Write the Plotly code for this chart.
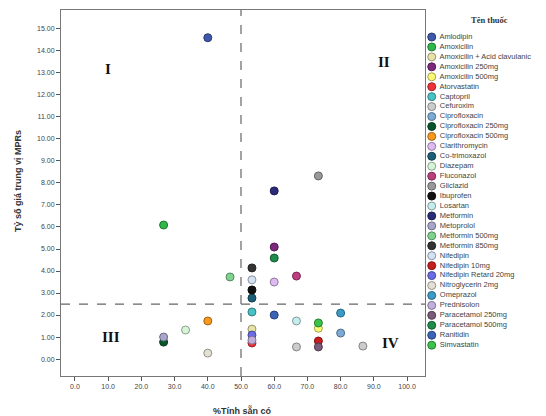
import plotly.graph_objects as go

# ---------------- data ----------------
drug_names = [
    "Amlodipin", "Amoxicilin", "Amoxicilin + Acid clavulanic", "Amoxicilin 250mg",
    "Amoxicilin 500mg", "Atorvastatin", "Captopril", "Cefuroxim", "Ciprofloxacin",
    "Ciprofloxacin 250mg", "Ciprofloxacin 500mg", "Clarithromycin", "Co-trimoxazol",
    "Diazepam", "Fluconazol", "Gliclazid", "Ibuprofen", "Losartan", "Metformin",
    "Metoprolol", "Metformin 500mg", "Metformin 850mg", "Nifedipin", "Nifedipin 10mg",
    "Nifedipin Retard 20mg", "Nitroglycerin 2mg", "Omeprazol", "Prednisolon",
    "Paracetamol 250mg", "Paracetamol 500mg", "Ranitidin", "Simvastatin",
]
drug_colors = [
    "#3E58AC", "#2EB848", "#E6E2A8", "#7C287D", "#FBF873", "#EF3338", "#48C2C5",
    "#CCCCCC", "#7AAAD5", "#0A562C", "#F8981D", "#DDBAF1", "#1A5F76", "#D6F5D6",
    "#BB3F7F", "#999999", "#111111", "#C6EDEE", "#2A2C7A", "#A9A6CC", "#7FD38F",
    "#333333", "#D3E1F3", "#C81E1E", "#6B6BE6", "#E3DFD3", "#3A9BC6", "#C2AEDD",
    "#7A5C7A", "#1E8C4A", "#3B63B8", "#3CC24A",
]

# points: drug, % availability, median price ratio
point_drug = [
    "Amlodipin", "Amoxicilin", "Amoxicilin + Acid clavulanic", "Amoxicilin 250mg",
    "Amoxicilin 500mg", "Atorvastatin", "Captopril", "Cefuroxim", "Cefuroxim",
    "Ciprofloxacin", "Ciprofloxacin 250mg", "Ciprofloxacin 500mg", "Clarithromycin",
    "Co-trimoxazol", "Diazepam", "Fluconazol", "Gliclazid", "Ibuprofen", "Losartan",
    "Metformin", "Metoprolol", "Metformin 500mg", "Metformin 850mg", "Nifedipin",
    "Nifedipin 10mg", "Nifedipin Retard 20mg", "Nitroglycerin 2mg", "Omeprazol",
    "Prednisolon", "Paracetamol 250mg", "Paracetamol 500mg", "Ranitidin", "Simvastatin",
]
point_avail = [
    40.0, 26.7, 53.3, 60.0,
    73.3, 53.3, 53.3, 66.7, 86.7,
    80.0, 26.7, 40.0, 60.0,
    53.3, 33.3, 66.7, 73.3, 53.3, 66.7,
    60.0, 26.7, 46.7, 53.3, 53.3,
    73.3, 53.3, 40.0, 80.0,
    53.3, 73.3, 60.0, 60.0, 73.3,
]
point_mpr = [
    14.60, 6.09, 1.36, 5.09,
    1.40, 0.73, 2.14, 0.55, 0.59,
    1.18, 0.77, 1.73, 3.50,
    2.77, 1.32, 3.77, 8.32, 3.14, 1.73,
    7.64, 1.00, 3.73, 4.14, 3.60,
    0.82, 1.09, 0.27, 2.09,
    0.86, 0.55, 4.59, 2.00, 1.64,
]

avail_cut = 50.0
mpr_cut = 2.5
quadrants = ["I", "II", "III", "IV"]
quad_x = [10.0, 93.0, 11.0, 95.0]
quad_y = [13.2, 13.5, 1.0, 0.75]


def darker(hex_color, f=0.65):
    h = hex_color.lstrip("#")
    r, g, b = (int(h[i:i + 2], 16) for i in (0, 2, 4))
    return "#%02x%02x%02x" % (int(r * f), int(g * f), int(b * f))


color_of = dict(zip(drug_names, drug_colors))

fig = go.Figure()

# main scatter points, one trace per drug
for name in drug_names:
    xs = [x for d, x in zip(point_drug, point_avail) if d == name]
    ys = [y for d, y in zip(point_drug, point_mpr) if d == name]
    c = color_of[name]
    fig.add_trace(go.Scatter(
        x=xs, y=ys, mode="markers", name=name, showlegend=False,
        marker=dict(size=8, color=c, line=dict(color=darker(c), width=1)),
        xaxis="x", yaxis="y",
    ))

# custom compact legend drawn on its own axes
idx = list(range(len(drug_names)))
fig.add_trace(go.Scatter(
    x=[0.05] * len(drug_names), y=idx, mode="markers+text",
    text=[" " + n for n in drug_names], textposition="middle right",
    textfont=dict(size=7.5, color="#444", family="Liberation Sans, Arial"),
    marker=dict(size=8, color=drug_colors,
                line=dict(color=[darker(c) for c in drug_colors], width=1)),
    showlegend=False, cliponaxis=False, hoverinfo="skip",
    xaxis="x2", yaxis="y2",
))

# reference lines
fig.add_shape(type="line", xref="x", yref="y", x0=avail_cut, x1=avail_cut,
              y0=-0.77, y1=15.86, line=dict(color="#666", width=1.2, dash="dash"))
fig.add_shape(type="line", xref="x", yref="y", x0=-4.2, x1=105.4,
              y0=mpr_cut, y1=mpr_cut, line=dict(color="#666", width=1.2, dash="dash"))

for q, qx, qy in zip(quadrants, quad_x, quad_y):
    fig.add_annotation(x=qx, y=qy, xref="x", yref="y", text="<b>%s</b>" % q,
                       showarrow=False,
                       font=dict(size=15, color="#111", family="Liberation Serif, serif"))

fig.add_annotation(x=-0.0887, y=0.5299, xref="paper", yref="paper",
                   xanchor="center", yanchor="middle",
                   text="<b>Tỷ số giá trung vị MPRs</b>", textangle=-90, showarrow=False,
                   font=dict(size=9, color="#333", family="Liberation Sans, Arial"))
fig.add_annotation(x=0.375, y=-0.0951, xref="paper", yref="paper",
                   xanchor="center", yanchor="middle",
                   text="<b>%Tính sẵn có</b>", showarrow=False,
                   font=dict(size=9, color="#333", family="Liberation Sans, Arial"))
fig.add_annotation(x=0.8845, y=0.9674, xref="paper", yref="paper",
                   xanchor="center", yanchor="middle",
                   text="<b>Tên thuốc</b>", showarrow=False,
                   font=dict(size=8.5, color="#333", family="Liberation Serif, serif"))

fig.update_layout(
    width=538, height=408,
    margin=dict(l=53, r=0, t=0, b=40),
    paper_bgcolor="white", plot_bgcolor="white",
    font=dict(family="Liberation Sans, Arial", size=7, color="#444"),
    xaxis=dict(domain=[0, 0.7505], range=[-4.2, 105.4], tick0=0, dtick=10,
               tickformat=".1f", ticks="outside", ticklen=4, tickcolor="#555",
               showline=True, mirror=True, linecolor="#777", linewidth=1,
               showgrid=False, zeroline=False, tickfont=dict(size=7, color="#444")),
    yaxis=dict(domain=[0, 0.9946], range=[-0.77, 15.86], tick0=0, dtick=1,
               tickformat=".2f", ticks="outside", ticklen=4, tickcolor="#555",
               showline=True, mirror=True, linecolor="#777", linewidth=1,
               showgrid=False, zeroline=False, tickfont=dict(size=7, color="#444")),
    xaxis2=dict(domain=[0.752, 1.0], range=[0, 1], anchor="y2", visible=False,
                fixedrange=True),
    yaxis2=dict(domain=[0, 1], range=[34.1, -2.918], anchor="x2", visible=False,
                fixedrange=True),
)

fig.write_html("out.html")
